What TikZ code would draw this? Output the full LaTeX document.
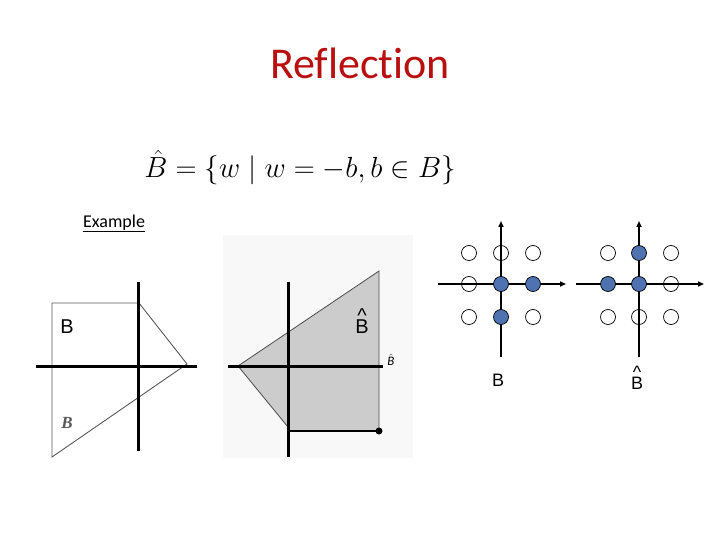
\documentclass[tikz,border=0pt]{standalone}
\usepackage{fontspec}
\setmainfont{Carlito}[Ligatures=NoCommon]
\newfontfamily\arialf{Liberation Sans}
\newfontfamily\timesf{Liberation Serif}
\usetikzlibrary{arrows.meta}
\definecolor{titlered}{RGB}{185,15,15}
\definecolor{dotblue}{RGB}{79,114,176}
\definecolor{imgbg}{RGB}{248,248,248}
\definecolor{shade}{RGB}{204,204,204}
\tikzset{
  thickaxis/.style={line width=3pt,black},
  arrowaxis/.style={line width=1.6pt,black,-{Triangle[length=6pt,width=5pt]}},
  emptydot/.style={circle,draw=black,line width=0.7pt,minimum size=15pt,inner sep=0pt},
  fulldot/.style={circle,draw=black,line width=0.7pt,fill=dotblue,minimum size=15pt,inner sep=0pt},
  outline/.style={draw=black!65,line width=0.9pt},
  lbl/.style={inner sep=0pt,anchor=base}
}
\newcommand{\hatB}[2]{\ooalign{B\cr\hidewidth\raisebox{#1}{\textasciicircum}\hidewidth\cr}}
\begin{document}
\begin{tikzpicture}[x=1pt,y=-1pt]
\useasboundingbox (0,0) rectangle (720,540);
\fill[white] (0,0) rectangle (720,540);

% title and formula
\node[lbl] (title) at (360,79) {\fontsize{44}{52}\selectfont\color{titlered}Reflection};
\node[lbl,scale=1.17] (formula) at (300,178) {\fontsize{24.88}{30}\selectfont$\hat{B}=\{w\mid w=-b,b\in B\}$};
\node[inner sep=0pt,anchor=base west] (example) at (83,227) {\fontsize{18}{21}\selectfont\underline{Example}};

% left picture
\draw[outline] (52,303) coordinate (p1) -- (139,303) coordinate (p2) -- (187,364) coordinate (p3) -- (52,457) coordinate (p4) -- cycle;
\coordinate (lh1) at (36,366); \coordinate (lh2) at (197,366);
\coordinate (lv1) at (138,282); \coordinate (lv2) at (138,451);
\draw[thickaxis] (lh1) -- (lh2);
\draw[thickaxis] (lv1) -- (lv2);
\node[lbl] (lB) at (67,333) {\arialf\fontsize{20}{24}\selectfont B};
\node[lbl] (lBi) at (67,428) {\timesf\itshape\bfseries\fontsize{17}{20}\selectfont\color{black!65}B};

% right picture
\fill[imgbg] (223,235) rectangle (413,458);
\filldraw[fill=shade,draw=black!70,line width=0.8pt] (238,366) coordinate (q1) -- (379,271) coordinate (q2) -- (379,431) coordinate (q3) -- (288,431) coordinate (q4) -- (288,427) coordinate (q5) -- cycle;
\draw[line width=1.6pt] (q4) -- (q3);
\fill (q3) circle (3.5);
\coordinate (rh1) at (228,366); \coordinate (rh2) at (383,366);
\coordinate (rv1) at (288,282); \coordinate (rv2) at (288,457);
\draw[thickaxis] (rh1) -- (rh2);
\draw[thickaxis] (rv1) -- (rv2);
\node[lbl] (rB) at (362,333) {\arialf\fontsize{20}{24}\selectfont\hatB{11pt}{}};
\node[inner sep=0pt] (rBs) at (391,360) {\fontsize{13}{15}\selectfont$\hat{\mathbf{\mathit{B}}}$};

% dot grid B
\coordinate (ah1) at (438,284); \coordinate (ah2) at (566,284);
\coordinate (av1) at (501,357); \coordinate (av2) at (501,221);
\draw[arrowaxis] (ah1) -- (ah2);
\draw[arrowaxis] (av1) -- (av2);
\node[emptydot] (a11) at (469,253) {};
\node[emptydot] (a12) at (501,253) {};
\node[emptydot] (a13) at (533,253) {};
\node[emptydot] (a21) at (469,284) {};
\node[fulldot]  (a22) at (501,284) {};
\node[fulldot]  (a23) at (533,284) {};
\node[emptydot] (a31) at (469,317) {};
\node[fulldot]  (a32) at (501,317) {};
\node[emptydot] (a33) at (533,317) {};
\node[lbl] (aB) at (498,386) {\arialf\fontsize{18}{22}\selectfont B};

% dot grid B hat
\coordinate (bh1) at (576,284); \coordinate (bh2) at (704,284);
\coordinate (bv1) at (639,357); \coordinate (bv2) at (639,221);
\draw[arrowaxis] (bh1) -- (bh2);
\draw[arrowaxis] (bv1) -- (bv2);
\node[emptydot] (b11) at (608,253) {};
\node[fulldot]  (b12) at (639,253) {};
\node[emptydot] (b13) at (671,253) {};
\node[fulldot]  (b21) at (608,284) {};
\node[fulldot]  (b22) at (639,284) {};
\node[emptydot] (b23) at (671,284) {};
\node[emptydot] (b31) at (608,317) {};
\node[emptydot] (b32) at (639,317) {};
\node[emptydot] (b33) at (671,317) {};
\node[lbl] (bB) at (637,389) {\arialf\fontsize{18}{22}\selectfont\hatB{11pt}{}};
\end{tikzpicture}
\end{document}
